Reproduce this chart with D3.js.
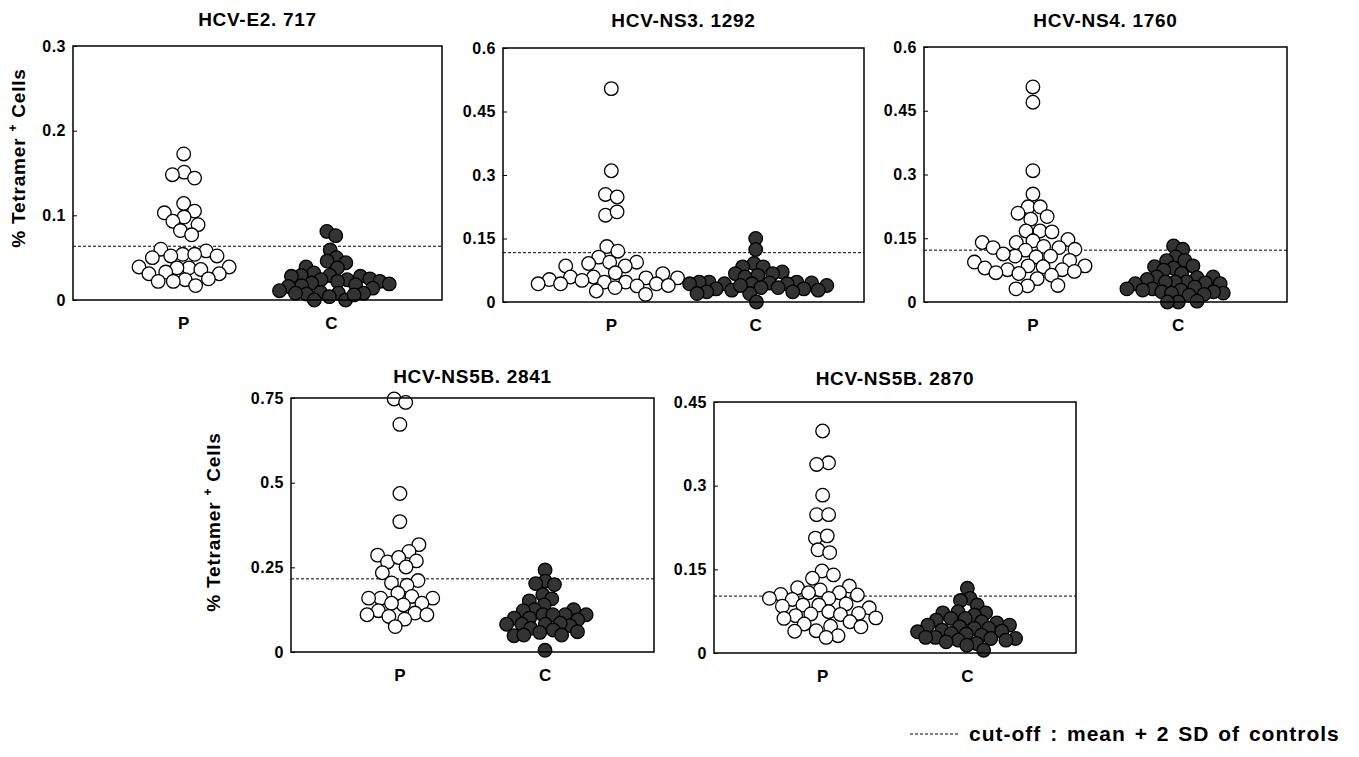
<!DOCTYPE html>
<html>
  <head>
    <meta charset="UTF-8">
    <style>
      body {
        margin: 0;
        background: white;
        font-family: "Liberation Sans", Arial, Helvetica, sans-serif;
      }

      text {
        font-weight: bold;
        fill: #000;
      }

      .axis .domain {
        display: none;
      }

      .axis .tick line {
        stroke: #000;
        stroke-width: 1;
      }

      .axis .tick text {
        font-size: 16px;
        letter-spacing: 0.5px;
      }
    </style>
    <script src="https://d3js.org/d3.v7.min.js"></script>
  </head>

  <body>
    <svg id="chart"></svg>

    <script type="text/javascript">
      // panel titles, groups and axis setup
      const titles = ['HCV-E2. 717', 'HCV-NS3. 1292', 'HCV-NS4. 1760', 'HCV-NS5B. 2841', 'HCV-NS5B. 2870']
      const groups = ['P', 'C']
      const yMax = [0.3, 0.6, 0.6, 0.75, 0.45]
      const yTicks = [
        [0, 0.1, 0.2, 0.3],
        [0, 0.15, 0.3, 0.45, 0.6],
        [0, 0.15, 0.3, 0.45, 0.6],
        [0, 0.25, 0.5, 0.75],
        [0, 0.15, 0.3, 0.45]
      ]
      // cut-off = mean + 2 SD of controls
      const cutoffs = [0.0635, 0.1165, 0.122, 0.216, 0.102]

      // % tetramer+ cells, patients (P) and controls (C)
      const e2P = [0.1725, 0.151, 0.148, 0.144, 0.114, 0.105, 0.103, 0.098, 0.093, 0.089, 0.082, 0.077,
        0.060, 0.058, 0.054, 0.054, 0.052, 0.052, 0.050, 0.039, 0.039, 0.038, 0.038, 0.036, 0.033,
        0.031, 0.031, 0.025, 0.024, 0.022, 0.022, 0.017]
      const e2C = [0.081, 0.076, 0.059, 0.050, 0.046, 0.044, 0.039, 0.038, 0.032, 0.029, 0.029, 0.028,
        0.028, 0.025, 0.024, 0.024, 0.022, 0.022, 0.020, 0.019, 0.017, 0.018, 0.016, 0.014, 0.011,
        0.008, 0.007, 0.008, 0.009, 0.004, 0.000, 0.000, 0.008, 0.006]

      const ns3P = [0.504, 0.310, 0.254, 0.248, 0.205, 0.213, 0.131, 0.120, 0.106, 0.094, 0.091, 0.094,
        0.085, 0.085, 0.069, 0.067, 0.059, 0.057, 0.059, 0.057, 0.053, 0.051, 0.047, 0.047, 0.043,
        0.043, 0.043, 0.039, 0.038, 0.034, 0.026, 0.018]
      const ns3C = [0.150, 0.124, 0.091, 0.083, 0.083, 0.071, 0.067, 0.063, 0.059, 0.067, 0.047, 0.045,
        0.047, 0.047, 0.043, 0.045, 0.043, 0.043, 0.043, 0.039, 0.031, 0.034, 0.034, 0.031, 0.024,
        0.024, 0.020, 0.028, 0.020, 0.000, 0.028, 0.039]

      const ns4P = [0.506, 0.470, 0.309, 0.254, 0.224, 0.224, 0.209, 0.201, 0.195, 0.167, 0.167, 0.165,
        0.140, 0.147, 0.140, 0.144, 0.131, 0.128, 0.122, 0.124, 0.128, 0.106, 0.108, 0.108, 0.113,
        0.098, 0.094, 0.085, 0.083, 0.085, 0.080, 0.076, 0.076, 0.072, 0.069, 0.063, 0.067, 0.055,
        0.038, 0.039, 0.031]
      const ns4C = [0.132, 0.124, 0.106, 0.098, 0.097, 0.085, 0.083, 0.080, 0.075, 0.067, 0.059, 0.059,
        0.053, 0.057, 0.047, 0.047, 0.047, 0.045, 0.043, 0.043, 0.031, 0.035, 0.031, 0.028, 0.024,
        0.021, 0.021, 0.024, 0.016, 0.018, 0.028, 0.000, 0.000, 0.002]

      const ns5b2841P = [0.747, 0.737, 0.672, 0.468, 0.385, 0.317, 0.286, 0.297, 0.266, 0.269, 0.279,
        0.251, 0.234, 0.211, 0.204, 0.197, 0.174, 0.164, 0.159, 0.159, 0.159, 0.139, 0.144, 0.144,
        0.122, 0.115, 0.110, 0.110, 0.105, 0.097, 0.075]
      const ns5b2841C = [0.242, 0.209, 0.202, 0.199, 0.169, 0.157, 0.151, 0.139, 0.125, 0.125, 0.122,
        0.110, 0.100, 0.110, 0.110, 0.110, 0.100, 0.095, 0.082, 0.078, 0.082, 0.082, 0.085, 0.065,
        0.070, 0.050, 0.048, 0.060, 0.050, 0.058, 0.005]

      const ns5b2870P = [0.398, 0.341, 0.338, 0.283, 0.248, 0.248, 0.206, 0.210, 0.185, 0.180, 0.147,
        0.140, 0.134, 0.120, 0.117, 0.113, 0.108, 0.108, 0.105, 0.104, 0.098, 0.098, 0.096, 0.088,
        0.086, 0.086, 0.084, 0.081, 0.074, 0.071, 0.070, 0.069, 0.067, 0.063, 0.062, 0.056, 0.052,
        0.048, 0.040, 0.047, 0.039, 0.031, 0.028]
      const ns5b2870C = [0.116, 0.098, 0.094, 0.086, 0.074, 0.072, 0.072, 0.068, 0.062, 0.062, 0.059,
        0.054, 0.050, 0.050, 0.056, 0.044, 0.047, 0.044, 0.041, 0.039, 0.038, 0.034, 0.035, 0.032,
        0.028, 0.026, 0.028, 0.023, 0.023, 0.026, 0.020, 0.017, 0.014, 0.005]

      const patients = [e2P, ns3P, ns4P, ns5b2841P, ns5b2870P]
      const controls = [e2C, ns3C, ns4C, ns5b2841C, ns5b2870C]

      const legendText = 'cut-off : mean + 2 SD of controls'

      function getChartConfig() {
        let width = 1359
        let height = 757

        // frame of each panel in page pixels
        let panels = [
          { left: 73, top: 46, width: 369, height: 254, titleY: 26, yTitle: { x: 25, y: 158 } },
          { left: 503, top: 48, width: 361, height: 254, titleY: 27 },
          { left: 924, top: 47, width: 363, height: 255, titleY: 27 },
          { left: 291, top: 398, width: 363, height: 254, titleY: 383, yTitle: { x: 220, y: 522 } },
          { left: 714, top: 402, width: 362, height: 251, titleY: 385 }
        ]

        let container = d3.select('#chart')
          .attr('width', width)
          .attr('height', height)

        return { width, height, panels, container }
      }

      // simple beeswarm: y fixed at value, x pushed apart by collisions
      function swarm(values, cx, y, r) {
        let nodes = values.map((v, i) => ({
          v: v,
          fy: y(v),
          x: cx + (i % 2 ? 1 : -1) * (i % 7)
        }))
        let sim = d3.forceSimulation(nodes)
          .force('x', d3.forceX(cx).strength(0.06))
          .force('collide', d3.forceCollide(r).iterations(4))
          .stop()
        for (let i = 0; i < 400; i++) sim.tick()
        return nodes
      }

      function drawPanel(i, config) {
        let p = config.panels[i]
        let g = config.container
          .append('g')
          .attr('transform', `translate(${p.left}, ${p.top})`)

        let x = d3.scalePoint()
          .domain(groups)
          .range([0, p.width])
          .padding(0.75)

        let y = d3.scaleLinear()
          .domain([0, yMax[i]])
          .range([p.height, 0])

        // y axis with small inward ticks
        g.append('g')
          .attr('class', 'axis')
          .call(d3.axisLeft(y)
            .tickValues(yTicks[i])
            .tickFormat(d => String(d))
            .tickSizeInner(-4)
            .tickSizeOuter(0)
            .tickPadding(7))

        // cut-off line
        g.append('line')
          .attr('x1', 0)
          .attr('x2', p.width)
          .attr('y1', y(cutoffs[i]))
          .attr('y2', y(cutoffs[i]))
          .attr('stroke', '#000')
          .attr('stroke-width', 1)
          .attr('stroke-dasharray', '3,2')

        // patients: open circles
        let pNodes = swarm(patients[i], x('P'), y, 6.0)
        g.append('g')
          .selectAll('circle')
          .data(pNodes)
          .enter()
          .append('circle')
          .attr('cx', d => d.x)
          .attr('cy', d => d.y)
          .attr('r', 6.8)
          .attr('fill', 'white')
          .attr('stroke', '#000')
          .attr('stroke-width', 1.3)

        // controls: dark filled circles, packed tighter
        let cNodes = swarm(controls[i], x('C'), y, 4.9)
        g.append('g')
          .selectAll('circle')
          .data(cNodes)
          .enter()
          .append('circle')
          .attr('cx', d => d.x)
          .attr('cy', d => d.y)
          .attr('r', 6.8)
          .attr('fill', '#333')
          .attr('stroke', '#000')
          .attr('stroke-width', 1.3)

        // frame
        g.append('rect')
          .attr('width', p.width)
          .attr('height', p.height)
          .attr('fill', 'none')
          .attr('stroke', '#000')
          .attr('stroke-width', 1.5)

        // group labels under the frame
        g.append('g')
          .selectAll('text')
          .data(groups)
          .enter()
          .append('text')
          .attr('x', d => x(d))
          .attr('y', p.height + 29)
          .attr('text-anchor', 'middle')
          .style('font-size', '17px')
          .text(d => d)

        // title
        config.container.append('text')
          .attr('x', p.left + p.width / 2)
          .attr('y', p.titleY)
          .attr('text-anchor', 'middle')
          .style('font-size', '19px')
          .style('letter-spacing', '0.7px')
          .text(titles[i])

        if (p.yTitle) {
          let t = config.container.append('text')
            .attr('transform', `translate(${p.yTitle.x}, ${p.yTitle.y}) rotate(-90)`)
            .attr('text-anchor', 'middle')
            .style('font-size', '19px')
            .style('letter-spacing', '0.8px')
          t.append('tspan').text('% Tetramer ')
          t.append('tspan').attr('dy', -8).style('font-size', '12px').text('+')
          t.append('tspan').attr('dy', 8).text(' Cells')
        }
      }

      function drawLegend(config) {
        let lg = config.container.append('g')
        lg.append('line')
          .attr('x1', 910)
          .attr('x2', 958)
          .attr('y1', 734)
          .attr('y2', 734)
          .attr('stroke', '#000')
          .attr('stroke-width', 1)
          .attr('stroke-dasharray', '3,2')
        lg.append('text')
          .attr('x', 969)
          .attr('y', 741)
          .style('font-size', '21px')
          .style('letter-spacing', '1px')
          .style('word-spacing', '2px')
          .text(legendText)
      }

      let config = getChartConfig()
      titles.forEach((t, i) => drawPanel(i, config))
      drawLegend(config)
    </script>
  </body>
</html>
